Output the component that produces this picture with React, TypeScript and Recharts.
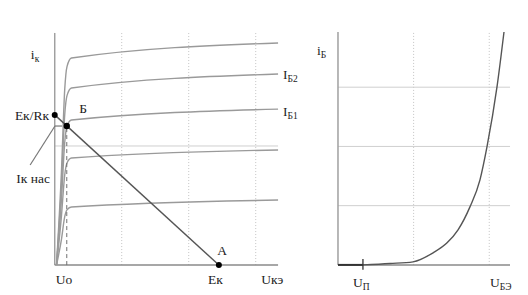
import React from "react";
import { LineChart, Line, XAxis, YAxis, ReferenceLine, ReferenceDot } from "recharts";

// ---------- Left chart: output characteristics i_к(U_кэ) ----------
const curveTop = [
  { x: 0.08, y: 0 }, { x: 0.3, y: 4.0 }, { x: 0.45, y: 7.6 }, { x: 0.55, y: 8.55 }, { x: 0.75, y: 8.92 }, { x: 10, y: 9.57 },
];
const curveIb2 = [
  { x: 0.08, y: 0 }, { x: 0.3, y: 3.4 }, { x: 0.45, y: 6.5 }, { x: 0.55, y: 7.3 }, { x: 0.75, y: 7.63 }, { x: 10, y: 8.23 },
];
const curveIb1 = [
  { x: 0.08, y: 0 }, { x: 0.3, y: 2.8 }, { x: 0.45, y: 5.3 }, { x: 0.55, y: 6.0 }, { x: 0.75, y: 6.25 }, { x: 10, y: 6.72 },
];
const curve4 = [
  { x: 0.08, y: 0 }, { x: 0.3, y: 2.1 }, { x: 0.45, y: 3.9 }, { x: 0.55, y: 4.4 }, { x: 0.75, y: 4.61 }, { x: 10, y: 4.96 },
];
const curve5 = [
  { x: 0.08, y: 0 }, { x: 0.3, y: 1.1 }, { x: 0.45, y: 2.1 }, { x: 0.55, y: 2.38 }, { x: 0.75, y: 2.5 }, { x: 10, y: 2.8 },
];
const outCurves = [curveTop, curveIb2, curveIb1, curve4, curve5];

const leftXMax = 10;
const leftYMax = 10;
const leftVGrid = [3, 6, 9];
const leftHGrid = [5.13];
const ekRk = 6.47; // Eк/Rк on the i_к axis
const ek = 7.35; // Eк on the U_кэ axis
const pointB = { x: 0.54, y: 5.99 };
const leaderLine = [
  { x: -1.1, y: 4.31 },
  { x: 0.01, y: 5.99 },
  { x: 0.33, y: 5.99 },
];

type Ann = { x: number; y: number; main: string; sub?: string; anchor?: "start" | "middle" | "end" };
const leftLabels: Ann[] = [
  { x: -0.88, y: 8.88, main: "i", sub: "к", anchor: "middle" },
  { x: -1.02, y: 6.27, main: "Eк/Rк", anchor: "middle" },
  { x: -0.97, y: 3.53, main: "Iк нас", anchor: "middle" },
  { x: 1.27, y: 6.55, main: "Б", anchor: "middle" },
  { x: 10.22, y: 8.02, main: "I", sub: "Б2", anchor: "start" },
  { x: 10.22, y: 6.42, main: "I", sub: "Б1", anchor: "start" },
  { x: 0.42, y: -0.82, main: "Uo", anchor: "middle" },
  { x: 7.2, y: -0.82, main: "Eк", anchor: "middle" },
  { x: 7.5, y: 0.43, main: "A", anchor: "middle" },
  { x: 9.74, y: -0.82, main: "Uкэ", anchor: "middle" },
];

// ---------- Right chart: input characteristic i_Б(U_БЭ) ----------
const inputCurve = [
  { x: 1.32, y: 0 }, { x: 2.75, y: 0.06 }, { x: 3.97, y: 0.13 }, { x: 5.03, y: 0.51 }, { x: 5.77, y: 0.93 },
  { x: 6.35, y: 1.48 }, { x: 6.98, y: 2.45 }, { x: 7.51, y: 3.59 }, { x: 7.88, y: 4.98 }, { x: 8.41, y: 7.51 },
  { x: 8.78, y: 9.83 },
];
const inputFlat = [{ x: 0, y: 0 }, { x: 1.32, y: 0 }];
const rightXMax = 9.1;
const rightYMax = 9.83;
const rightVGrid = [4, 8];
const rightHGrid = [2.5, 5, 7.5];
const uP = 1.32;
const rightLabels: Ann[] = [
  { x: -1.11, y: 8.86, main: "i", sub: "Б", anchor: "start" },
  { x: 0.79, y: -0.93, main: "U", sub: "П", anchor: "start" },
  { x: 8.04, y: -0.93, main: "U", sub: "БЭ", anchor: "start" },
];

const FONT = "Liberation Serif, Times New Roman, DejaVu Serif, serif";

const AnnText = (p: any) => (
  <text
    x={p.cx}
    y={p.cy}
    textAnchor={p.anchor || "start"}
    fontFamily={FONT}
    fontSize={13.5}
    fill="#222"
    style={{ fontFamily: FONT }}
  >
    {p.main}
    {p.sub ? (
      <tspan dy={3} fontSize={9.5}>
        {p.sub}
      </tspan>
    ) : null}
  </text>
);

const renderLabels = (labels: Ann[], prefix: string) =>
  labels.map((l, i) => (
    <ReferenceDot
      key={prefix + i}
      x={l.x}
      y={l.y}
      r={0}
      ifOverflow="visible"
      shape={(props: any) => <AnnText cx={props.cx} cy={props.cy} main={l.main} sub={l.sub} anchor={l.anchor} />}
    />
  ));

export default function App() {
  return (
    <div style={{ position: "absolute", left: 0, top: 0, width: 528, height: 295, background: "#fff" }}>
      <div style={{ position: "absolute", left: 0, top: 0 }}>
        <LineChart width={310} height={295} margin={{ top: 0, right: 0, bottom: 0, left: 0 }}>
          <XAxis type="number" dataKey="x" domain={[-2.45, 11.43]} hide allowDataOverflow />
          <YAxis type="number" dataKey="y" domain={[-1.29, 11.42]} hide allowDataOverflow />
          {leftVGrid.map((g) => (
            <ReferenceLine key={"lv" + g} segment={[{ x: g, y: 0 }, { x: g, y: leftYMax }]} stroke="#c4c4c4" strokeDasharray="1 2" />
          ))}
          {leftHGrid.map((g) => (
            <ReferenceLine key={"lh" + g} segment={[{ x: 0, y: g }, { x: leftXMax, y: g }]} stroke="#cfcfcf" />
          ))}
          <ReferenceLine segment={[{ x: 0, y: 0 }, { x: 0, y: leftYMax }]} stroke="#a0a0a0" strokeWidth={1.5} />
          <ReferenceLine segment={[{ x: 0, y: 0 }, { x: leftXMax, y: 0 }]} stroke="#8a8a8a" strokeWidth={1.5} />
          {outCurves.map((c, i) => (
            <Line
              key={"c" + i}
              data={c}
              dataKey="y"
              type="monotone"
              stroke="#9a9a9a"
              strokeWidth={1.4}
              dot={false}
              activeDot={false}
              isAnimationActive={false}
            />
          ))}
          <ReferenceLine segment={[{ x: pointB.x, y: 0 }, { x: pointB.x, y: pointB.y }]} stroke="#707070" strokeDasharray="4 3" />
          <ReferenceLine segment={[{ x: 0, y: ekRk }, { x: ek, y: 0 }]} stroke="#555" strokeWidth={1.4} />
          <ReferenceLine segment={[leaderLine[0], leaderLine[1]]} stroke="#777" strokeWidth={1.2} />
          <ReferenceLine segment={[leaderLine[1], leaderLine[2]]} stroke="#777" strokeWidth={1.2} />
          <ReferenceDot x={0} y={ekRk} r={3} fill="#000" stroke="none" />
          <ReferenceDot x={pointB.x} y={pointB.y} r={3.2} fill="#000" stroke="none" />
          <ReferenceDot x={ek} y={0} r={3} fill="#000" stroke="none" />
          {renderLabels(leftLabels, "ll")}
        </LineChart>
      </div>
      <div style={{ position: "absolute", left: 310, top: 0 }}>
        <LineChart width={218} height={295} margin={{ top: 0, right: 0, bottom: 0, left: 0 }}>
          <XAxis type="number" dataKey="x" domain={[-1.48, 10.05]} hide allowDataOverflow />
          <YAxis type="number" dataKey="y" domain={[-1.27, 11.18]} hide allowDataOverflow />
          {rightVGrid.map((g) => (
            <ReferenceLine key={"rv" + g} segment={[{ x: g, y: 0 }, { x: g, y: rightYMax }]} stroke="#c4c4c4" strokeDasharray="1 2" />
          ))}
          {rightHGrid.map((g) => (
            <ReferenceLine key={"rh" + g} segment={[{ x: 0, y: g }, { x: rightXMax, y: g }]} stroke="#cfcfcf" />
          ))}
          <ReferenceLine segment={[{ x: 0, y: 0 }, { x: 0, y: rightYMax }]} stroke="#a0a0a0" strokeWidth={1.5} />
          <ReferenceLine segment={[{ x: 0, y: 0 }, { x: rightXMax, y: 0 }]} stroke="#8a8a8a" strokeWidth={1.5} />
          <Line data={inputFlat} dataKey="y" type="linear" stroke="#333" strokeWidth={2} dot={false} activeDot={false} isAnimationActive={false} />
          <Line data={inputCurve} dataKey="y" type="monotone" stroke="#555" strokeWidth={1.4} dot={false} activeDot={false} isAnimationActive={false} />
          <ReferenceLine segment={[{ x: uP, y: -0.2 }, { x: uP, y: 0.25 }]} stroke="#333" strokeWidth={1.3} />
          {renderLabels(rightLabels, "rl")}
        </LineChart>
      </div>
    </div>
  );
}
